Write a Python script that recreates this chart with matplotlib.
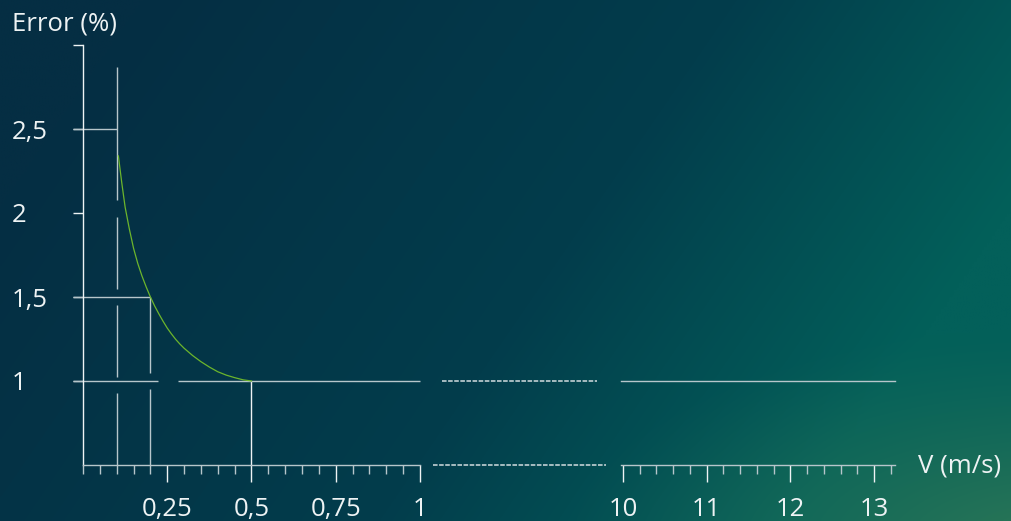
import numpy as np
import matplotlib
matplotlib.use("Agg")
import matplotlib.pyplot as plt
from matplotlib.ticker import MultipleLocator

# datos
curve_v = [0.105, 0.115, 0.125, 0.1375, 0.15, 0.1625, 0.175, 0.1875, 0.2, 0.2125, 0.225,
           0.2375, 0.25, 0.2625, 0.275, 0.2875, 0.3, 0.325, 0.35, 0.375, 0.4, 0.425,
           0.45, 0.475, 0.5]
curve_err = [2.34, 2.18, 2.035, 1.905, 1.79, 1.70, 1.625, 1.56, 1.50, 1.447, 1.40,
             1.356, 1.315, 1.28, 1.248, 1.22, 1.195, 1.152, 1.115, 1.083, 1.055, 1.035,
             1.02, 1.007, 1.0]

y_ticks = [1, 1.5, 2, 2.5, 3]
y_labels = ["1", "1,5", "2", "2,5", ""]
x_ticks_low = [0.25, 0.5, 0.75, 1]
x_labels_low = ["0,25", "0,5", "0,75", "1"]
x_ticks_high = [10, 11, 12, 13]
x_labels_high = ["10", "11", "12", "13"]

# lineas guia (x, y0, y1) con los cortes del original
guide_v01 = [(0.1, 2.87, 2.08), (0.1, 1.975, 1.545), (0.1, 1.455, 1.025), (0.1, 0.93, 0.5)]
guide_v02 = [(0.2, 1.5, 1.048), (0.2, 0.952, 0.5)]
guide_v05 = [(0.5, 1.0, 0.5)]
# lineas horizontales (y, x0, x1)
guide_h = [(2.5, -0.03, 0.1), (1.5, -0.03, 0.2), (1.0, -0.03, 0.2235), (1.0, 0.283, 1.0)]

W, H = 1011, 521
FONT = "Open Sans"
FS = 18.5
WHITE = "#eef3f4"
GRID = "#b7c6cb"
GREEN = "#6cb52c"

plt.rcParams["font.family"] = [FONT, "DejaVu Sans"]

fig = plt.figure(figsize=(W / 100, H / 100), dpi=100)

# fondo degradado
bg = fig.add_axes([0, 0, 1, 1], zorder=-10)
xs, ys = np.meshgrid(np.linspace(0, 1, 400), np.linspace(0, 1, 220))
t = np.clip(0.85 * xs + 0.3 * ys - 0.12, 0, 1)
navy = np.array([5, 46, 67]) / 255
mid = np.array([2, 61, 76]) / 255
teal = np.array([3, 96, 90]) / 255
glowc = np.array([46, 120, 86]) / 255
a = np.clip(t / 0.5, 0, 1)[..., None]
b = np.clip((t - 0.5) / 0.35, 0, 1)[..., None]
img = navy * (1 - a) + mid * a
img = img * (1 - b) + teal * b
d = np.sqrt((xs - 1.05) ** 2 + ((ys - 1.05) * 1.2) ** 2)
g = (np.clip(1 - d / 0.5, 0, 1) ** 1.3)[..., None]
img = img * (1 - g) + glowc * g
bg.imshow(img, aspect="auto", extent=[0, 1, 0, 1], origin="upper", interpolation="bilinear")
bg.axis("off")


def fx(px):
    return px / W


def fy(py):
    return 1 - py / H


bottom = fy(465)
height = (465 - 45) / H

ax1 = fig.add_axes([fx(83), bottom, (420 - 83) / W, height])
ax2 = fig.add_axes([fx(433), bottom, (606 - 433) / W, height])
ax3 = fig.add_axes([fx(621), bottom, (895 - 621) / W, height])

for ax in (ax1, ax2, ax3):
    ax.set_facecolor("none")
    ax.set_ylim(0.5, 3.0)
    for s in ax.spines.values():
        s.set_visible(False)

ax1.set_xlim(0, 1)
ax2.set_xlim(0, 1)
ax3.set_xlim(9.976, 13.25)

# eje y
ax1.spines["left"].set_visible(True)
ax1.spines["bottom"].set_visible(True)
ax1.spines["left"].set_color(WHITE)
ax1.spines["bottom"].set_color(GRID)
ax1.spines["left"].set_linewidth(1.0)
ax1.spines["bottom"].set_linewidth(1.0)
ax1.set_yticks(y_ticks)
ax1.set_yticklabels(y_labels)
ax1.tick_params(axis="y", length=7.2, width=1.0, color=WHITE, labelcolor=WHITE,
                labelsize=FS, pad=44)
for lab in ax1.get_yticklabels():
    lab.set_horizontalalignment("left")

# eje x tramo bajo
ax1.set_xticks(x_ticks_low)
ax1.set_xticklabels(x_labels_low)
ax1.xaxis.set_minor_locator(MultipleLocator(0.05))
ax1.tick_params(axis="x", which="major", length=12.2, width=1.0, color=WHITE,
                labelcolor=WHITE, labelsize=FS, pad=11)
ax1.tick_params(axis="x", which="minor", length=6.5, width=1.0, color=GRID)

# tramo central: solo lineas discontinuas
ax2.set_xticks([])
ax2.set_yticks([])
ax2.plot([0.052, 0.948], [1.0, 1.0], color="#d3dde0", lw=1.1, ls=(0, (3, 1.0)), clip_on=False)
ax2.plot([0, 1], [0.5, 0.5], color="#d3dde0", lw=1.1, ls=(0, (3, 1.0)), clip_on=False)

# tramo alto
ax3.spines["bottom"].set_visible(True)
ax3.spines["bottom"].set_color(GRID)
ax3.spines["bottom"].set_linewidth(1.0)
ax3.set_yticks([])
ax3.set_xticks(x_ticks_high)
ax3.set_xticklabels(x_labels_high)
ax3.xaxis.set_minor_locator(MultipleLocator(0.2))
ax3.tick_params(axis="x", which="major", length=12.2, width=1.0, color=WHITE,
                labelcolor=WHITE, labelsize=FS, pad=11)
ax3.tick_params(axis="x", which="minor", length=6.5, width=1.0, color=GRID)
ax3.plot([9.976, 13.25], [1.0, 1.0], color=GRID, lw=1.0, clip_on=False)

# guias
for x, y0, y1 in guide_v01 + guide_v02:
    ax1.plot([x, x], [y0, y1], color=GRID, lw=1.0, clip_on=False, solid_capstyle="butt")
for x, y0, y1 in guide_v05:
    ax1.plot([x, x], [y0, y1], color=WHITE, lw=1.0, clip_on=False, solid_capstyle="butt")
for y, x0, x1 in guide_h:
    ax1.plot([x0, x1], [y, y], color=GRID, lw=1.0, clip_on=False, solid_capstyle="butt")

ax1.plot(curve_v, curve_err, color=GREEN, lw=0.9, zorder=5, solid_joinstyle="round")

fig.text(fx(12), fy(24), "Error (%)", color=WHITE, fontsize=FS, va="center", ha="left")
fig.text(fx(918), fy(466), "V (m/s)", color=WHITE, fontsize=FS, va="center", ha="left")

fig.savefig("out.png", dpi=100)
